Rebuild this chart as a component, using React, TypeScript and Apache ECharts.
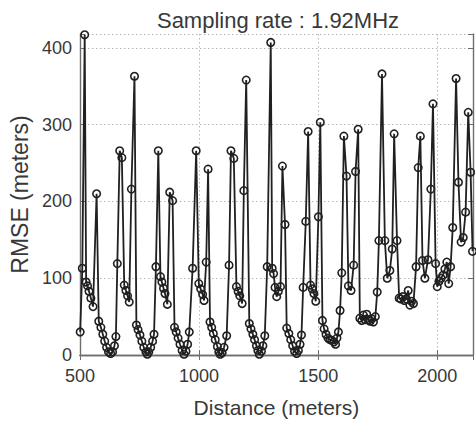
import React, { useEffect, useRef } from "react";
import * as echarts from "echarts";

const titleText = "Sampling rate : 1.92MHz";
const xLabel = "Distance (meters)";
const yLabel = "RMSE (meters)";

const xTicks = [500, 1000, 1500, 2000];
const yTicks = [0, 100, 200, 300, 400];

const distance = [
  501, 510, 520, 526, 532, 538, 546, 555, 570, 579, 588, 596, 604, 612, 620, 629, 637, 645, 651,
  657, 667, 676, 686, 693, 700, 707, 716, 729, 737, 744, 752, 760, 768, 777, 783, 789, 797, 805,
  811, 819, 829, 838, 844, 851, 857, 867, 877, 889, 897, 904, 912, 920, 929, 937, 945, 952, 959,
  973, 988, 999, 1007, 1015, 1021, 1030, 1038, 1046, 1053, 1060, 1068, 1077, 1083, 1089, 1097,
  1105, 1116, 1126, 1134, 1146, 1157, 1164, 1171, 1181, 1188, 1198, 1211, 1218, 1226, 1233, 1241,
  1247, 1253, 1262, 1268, 1276, 1286, 1301, 1307, 1313, 1319, 1326, 1333, 1342, 1350, 1361, 1368,
  1377, 1385, 1393, 1401, 1410, 1417, 1424, 1430, 1437, 1448, 1458, 1468, 1475, 1482, 1490, 1501,
  1509, 1518, 1525, 1533, 1541, 1549, 1557, 1566, 1573, 1579, 1585, 1592, 1599, 1608, 1619, 1627,
  1638, 1649, 1657, 1668, 1675, 1683, 1690, 1697, 1704, 1711, 1718, 1725, 1732, 1740, 1748, 1755,
  1768, 1780, 1790, 1801, 1811, 1819, 1831, 1840, 1847, 1855, 1862, 1870, 1878, 1885, 1892, 1900,
  1911, 1920, 1929, 1938, 1948, 1961, 1973, 1982, 1993, 2000, 2007, 2016, 2024, 2032, 2040, 2048,
  2056, 2065, 2079, 2089, 2100, 2109, 2119, 2130, 2140, 2148,
];

const rmse = [
  30, 113, 417, 95, 90, 83, 74, 63, 210, 44, 36, 27, 18, 10, 4, 2, 4, 12, 24,
  119, 266, 257, 91, 84, 77, 69, 216, 363, 39, 33, 26, 18, 10, 4, 1, 4, 10, 18,
  27, 115, 266, 102, 95, 87, 80, 66, 212, 201, 36, 30, 22, 14, 6, 1, 5, 14, 30,
  113, 266, 93, 86, 79, 71, 121, 242, 43, 36, 28, 20, 11, 4, 1, 3,
  10, 25, 117, 266, 256, 89, 83, 77, 67, 214, 358, 41, 34, 27, 20, 12,
  6, 1, 5, 12, 25, 115, 407, 113, 106, 88, 76, 83, 89, 246, 170, 35,
  28, 20, 12, 5, 2, 6, 14, 26, 88, 174, 291, 91, 86, 80, 70, 180,
  303, 45, 34, 27, 22, 20, 19, 17, 14, 22, 30, 58, 107, 285, 233, 90,
  84, 117, 239, 294, 48, 45, 52, 46, 53, 46, 44, 47, 43, 50, 82, 149,
  366, 149, 100, 110, 138, 288, 149, 74, 73, 76, 71, 73, 84, 65, 70, 67,
  115, 244, 285, 123, 100, 124, 216, 327, 119, 89, 96, 100, 104, 112, 121, 93,
  115, 166, 360, 225, 147, 153, 186, 316, 238, 135,
];

const X_MIN = 500;
const X_MAX = 2150;
const Y_MIN = 0;
const Y_MAX = 418;

export default function App() {
  const ref = useRef<HTMLDivElement>(null);

  useEffect(() => {
    document.body.style.margin = "0";
    if (!ref.current) return;
    const chart = echarts.init(ref.current, null, { renderer: "svg" });
    const font = "'Liberation Sans', Arial, Helvetica, sans-serif";
    const textColor = "#383838";
    const boxColor = "#6e6e6e";
    const gridLine = { show: true, lineStyle: { color: "#b4b4b4", type: [1.5, 2.5] as any, width: 1 } };

    const baseAxisLine = { show: true, lineStyle: { color: boxColor, width: 1.4 } };
    const tick = { show: true, inside: true, length: 5, lineStyle: { color: boxColor, width: 1 } };

    chart.setOption({
      animation: false,
      backgroundColor: "#ffffff",
      title: {
        text: titleText,
        left: 273,
        textAlign: "center",
        top: 4,
        textStyle: { fontFamily: font, fontSize: 22, fontWeight: "normal", color: textColor },
      },
      grid: { left: 72, right: 2, top: 34, bottom: 70, containLabel: false },
      xAxis: [
        {
          type: "value",
          min: X_MIN,
          max: X_MAX,
          interval: 500,
          name: xLabel,
          nameLocation: "middle",
          nameGap: 42,
          nameTextStyle: { fontFamily: font, fontSize: 21, color: textColor },
          axisLine: baseAxisLine,
          axisTick: tick,
          axisLabel: {
            fontFamily: font,
            fontSize: 18,
            color: textColor,
            margin: 12,
            formatter: (v: number) => (xTicks.includes(v) ? String(v) : ""),
          },
          splitLine: gridLine,
        },
        {
          type: "value",
          position: "top",
          min: X_MIN,
          max: X_MAX,
          interval: 500,
          axisLine: baseAxisLine,
          axisTick: tick,
          axisLabel: { show: false },
          splitLine: { show: false },
        },
      ],
      yAxis: [
        {
          type: "value",
          min: Y_MIN,
          max: Y_MAX,
          interval: 100,
          name: yLabel,
          nameLocation: "middle",
          nameGap: 48,
          nameTextStyle: { fontFamily: font, fontSize: 23, color: textColor },
          axisLine: baseAxisLine,
          axisTick: tick,
          axisLabel: {
            fontFamily: font,
            fontSize: 18,
            color: textColor,
            margin: 8,
            formatter: (v: number) => (yTicks.includes(v) ? String(v) : ""),
          },
          splitLine: gridLine,
        },
        {
          type: "value",
          position: "right",
          min: Y_MIN,
          max: Y_MAX,
          interval: 100,
          axisLine: baseAxisLine,
          axisTick: tick,
          axisLabel: { show: false },
          splitLine: { show: false },
        },
      ],
      series: [
        {
          type: "line",
          xAxisIndex: 0,
          yAxisIndex: 0,
          data: distance.map((d, i) => [d, rmse[i]]),
          symbol: "circle",
          symbolSize: 7.5,
          showAllSymbol: true,
          clip: false,
          lineStyle: { color: "#202020", width: 1.8 },
          itemStyle: { color: "rgba(0,0,0,0)", borderColor: "#202020", borderWidth: 1.6 },
          emphasis: { disabled: true },
        },
      ],
    });
    return () => chart.dispose();
  }, []);

  return <div ref={ref} style={{ width: 476, height: 425 }} />;
}
